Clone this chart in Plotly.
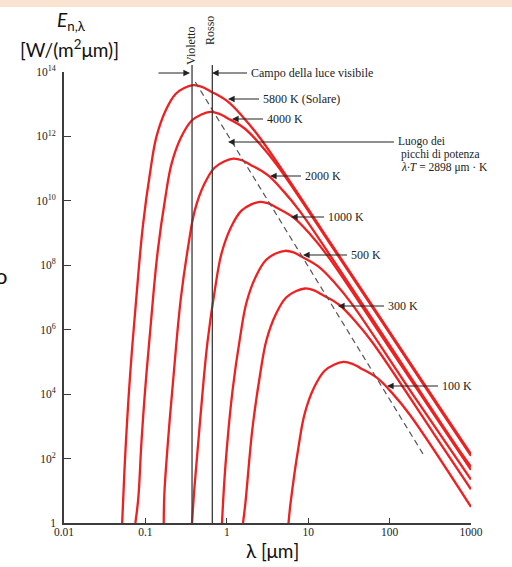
import plotly.graph_objects as go

# ---------------- data (lambda in um, E in W/(m2 um)) ----------------
curve_labels = ["5800 K", "4000 K", "2000 K", "1000 K", "500 K", "300 K", "100 K"]

lam_5800 = [0.0518, 0.0553, 0.0597, 0.0655, 0.0769, 0.0933, 0.1153, 0.1365, 0.1762, 0.2333,
            0.3041, 0.3917, 0.4955, 0.628, 1.014, 1.596, 2.576, 14.86, 248.3, 1000]
E_5800 = [1, 42.9, 1535, 5.48e4, 8.18e6, 1.746e9, 8.91e10, 9.66e11, 6.2e12, 2.05e13,
          3.25e13, 3.89e13, 3.47e13, 2.54e13, 1.24e13, 3.89e12, 8.79e11, 1.22e9, 2.69e4, 139]

lam_4000 = [0.0753, 0.0820, 0.0887, 0.0977, 0.1156, 0.1413, 0.1762, 0.2099, 0.2735, 0.3664,
            0.4875, 0.628, 0.7943, 1.007, 1.626, 2.559, 4.130, 23.82, 398.1, 1000]
E_4000 = [1, 6.35, 227, 8110, 1.21e6, 2.58e8, 1.318e10, 1.429e11, 9.2e11, 3.02e12,
          4.80e12, 5.75e12, 5.13e12, 3.75e12, 1.83e12, 5.75e11, 1.30e11, 1.81e8, 3972, 122]

lam_2000 = [0.1679, 0.1710, 0.1884, 0.2228, 0.2723, 0.3396, 0.4046, 0.5272, 0.7063,
            0.9397, 1.211, 1.531, 1.941, 3.133, 4.932, 7.962, 45.92, 767.4, 1000]
E_2000 = [1, 8.05, 288, 4.30e4, 9.16e6, 4.68e8, 5.07e9, 3.25e10, 1.07e11,
          1.70e11, 2.04e11, 1.82e11, 1.33e11, 6.50e10, 2.04e10, 4.61e9, 6.41e6, 141, 56.2]

lam_1000 = [0.3741, 0.4009, 0.4742, 0.5794, 0.7228, 0.8610, 1.122, 1.503,
            2.0, 2.576, 3.258, 4.130, 6.668, 10.50, 16.94, 97.7, 1000]
E_1000 = [1, 13.15, 1963, 4.19e5, 2.14e7, 2.32e8, 1.49e9, 4.89e9,
          7.80e9, 9.33e9, 8.32e9, 6.08e9, 2.97e9, 9.33e8, 2.11e8, 2.93e5, 44.6]

lam_500 = [0.873, 0.9616, 1.175, 1.466, 1.746, 2.275, 3.048,
           4.055, 5.224, 6.607, 8.375, 13.52, 21.28, 34.36, 198.2, 1000]
E_500 = [1, 59.3, 1.265e4, 6.46e5, 7.00e6, 4.50e7, 1.48e8,
         2.36e8, 2.82e8, 2.51e8, 1.837e8, 8.97e7, 2.82e7, 6.37e6, 8851, 22.4]

lam_300 = [1.581, 1.690, 2.065, 2.576, 3.069, 4.000, 5.358,
           7.129, 9.183, 11.61, 14.72, 23.77, 37.41, 60.39, 348.3, 1000]
E_300 = [1, 4.01, 855, 4.37e4, 4.73e5, 3.04e6, 1.00e7,
         1.59e7, 1.905e7, 1.70e7, 1.242e7, 6.07e6, 1.905e6, 4.31e5, 598, 11.1]

lam_100 = [5.728, 6.095, 7.603, 9.057, 11.80, 15.81,
           21.04, 27.10, 34.28, 43.45, 70.15, 110.4, 178.2, 1000]
E_100 = [1, 4.49, 229, 2483, 1.60e4, 5.25e4,
         8.36e4, 1.0e5, 8.91e4, 6.52e4, 3.18e4, 1.0e4, 2259, 3.16]

wien_lam = [0.41, 258]
wien_E = [4.9e13, 138]

violet_um = 0.374
red_um = 0.664

x_tickvals = [0.01, 0.1, 1, 10, 100, 1000]
x_ticktext = ["0.01", "0.1", "1", "10", "100", "1000"]
y_tickvals = [1, 1e2, 1e4, 1e6, 1e8, 1e10, 1e12, 1e14]
y_ticktext = ["1", "10<sup>2</sup>", "10<sup>4</sup>", "10<sup>6</sup>", "10<sup>8</sup>",
              "10<sup>10</sup>", "10<sup>12</sup>", "10<sup>14</sup>"]

# ---------------- layout geometry ----------------
W, H = 512, 567
ML, MR, MT, MB = 64, 41, 72, 44
PW, PH = W - ML - MR, H - MT - MB


def xp(px):
    return (px - ML) / PW


def yp(py):
    return (H - MB - py) / PH


RED = "rgb(238,32,32)"
INK = "#222222"
AX = "#3c3c3c"
SERIF = "Liberation Serif"
SANS = "Lato"

fig = go.Figure()

curves = [(lam_5800, E_5800), (lam_4000, E_4000), (lam_2000, E_2000), (lam_1000, E_1000),
          (lam_500, E_500), (lam_300, E_300), (lam_100, E_100)]
for name, (lx, ey) in zip(curve_labels, curves):
    fig.add_trace(go.Scatter(x=lx, y=ey, mode="lines", name=name,
                             line=dict(color=RED, width=2.3, shape="spline", smoothing=1.1),
                             showlegend=False, hoverinfo="skip"))

fig.add_trace(go.Scatter(x=wien_lam, y=wien_E, mode="lines",
                         line=dict(color="#555555", width=1.2, dash="6px,4px"),
                         showlegend=False, hoverinfo="skip"))

shapes = []
for xv in (violet_um, red_um):
    shapes.append(dict(type="line", xref="x", yref="paper", x0=xv, x1=xv,
                       y0=0, y1=yp(65), line=dict(color="#3a3a3a", width=1.3)))
shapes.append(dict(type="rect", xref="paper", yref="paper", x0=xp(0), x1=xp(W),
                   y0=yp(7), y1=yp(0), fillcolor="#FBE3D2", line=dict(width=0), layer="below"))

ann = []


def text(px, py, s, size=12, font=SERIF, xanchor="left", angle=0, color=INK):
    ann.append(dict(xref="paper", yref="paper", x=xp(px), y=yp(py), text=s, showarrow=False,
                    xanchor=xanchor, yanchor="middle", textangle=angle,
                    font=dict(family=font, size=size, color=color)))


def label_arrow(tip_px, tip_py, tail_px, s, size=12):
    ann.append(dict(xref="paper", yref="paper", x=xp(tip_px), y=yp(tip_py), text=s,
                    showarrow=True, ax=tail_px - tip_px, ay=0, axref="pixel", ayref="pixel",
                    xanchor="left", yanchor="middle", borderpad=3,
                    arrowhead=2, arrowsize=1.1, arrowwidth=1.2, arrowcolor=INK,
                    standoff=0, startstandoff=0,
                    font=dict(family=SERIF, size=size, color=INK)))


text(191, 46, "Violetto", angle=-90, xanchor="center")
text(210, 31, "Rosso", angle=-90, xanchor="center")

ann.append(dict(xref="paper", yref="paper", x=xp(190), y=yp(73), text="", showarrow=True,
                ax=-33, ay=0, axref="pixel", ayref="pixel", arrowhead=2, arrowsize=1.1,
                arrowwidth=1.2, arrowcolor=INK, standoff=0, startstandoff=0))
label_arrow(212, 73, 247, "Campo della luce visibile")

label_arrow(228, 99, 259, "5800 K (Solare)")
label_arrow(232, 119, 263, "4000 K")
label_arrow(228, 142, 394, "Luogo dei", size=11.5)
text(399, 154.5, "picchi di potenza", size=11.5)
text(399, 167, "<i>λ·T</i> = 2898 μm · K", size=11.5)
label_arrow(270, 176, 301, "2000 K")
label_arrow(291, 217, 324, "1000 K")
label_arrow(303, 255, 347, "500 K")
label_arrow(338, 306, 384, "300 K")
label_arrow(387, 386, 438, "100 K")

text(71, 21, "<i>E</i><sub>n,λ</sub>", size=19, font=SANS, xanchor="center", color="#111")
text(69, 48, "[W/(m<sup>2</sup>μm)]", size=19, font=SANS, xanchor="center", color="#111")
text(272, 550, "λ [μm]", size=19, font=SANS, xanchor="center", color="#111")
text(9, 275, "o", size=22, font=SANS, xanchor="right", color="#111")

fig.update_layout(
    width=W, height=H, autosize=False,
    margin=dict(l=ML, r=MR, t=MT, b=MB, pad=0),
    paper_bgcolor="white", plot_bgcolor="white",
    shapes=shapes, annotations=ann,
    xaxis=dict(type="log", range=[-2, 3], showgrid=False, zeroline=False,
               showline=True, linecolor=AX, linewidth=1.6, mirror=False,
               ticks="inside", ticklen=5, tickwidth=1.4, tickcolor=AX,
               tickvals=x_tickvals, ticktext=x_ticktext, ticklabelstandoff=-3,
               tickfont=dict(family=SERIF, size=11.5, color="#222")),
    yaxis=dict(type="log", range=[0, 14], showgrid=False, zeroline=False,
               showline=True, linecolor=AX, linewidth=1.6, mirror=False,
               ticks="inside", ticklen=7, tickwidth=1.4, tickcolor=AX,
               tickvals=y_tickvals, ticktext=y_ticktext, ticklabelstandoff=4,
               tickfont=dict(family=SERIF, size=11.5, color="#222")),
)

fig.write_html("out.html", config={"displayModeBar": False},
               post_script="document.body.style.margin='0';document.body.style.overflow='hidden';")
